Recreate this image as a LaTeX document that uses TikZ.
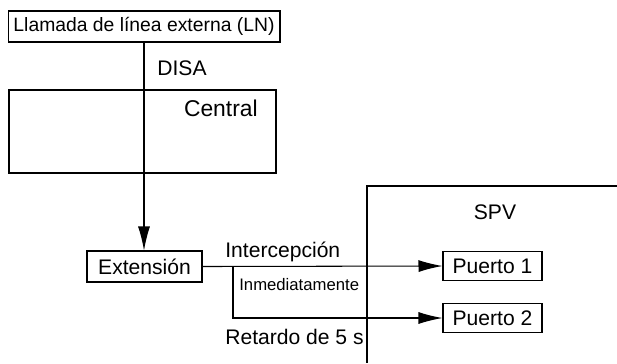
\documentclass[tikz,border=0pt]{standalone}
\usepackage{fontspec}
\setmainfont{Liberation Sans}
\usetikzlibrary{arrows.meta}

\begin{document}
\begin{tikzpicture} [x = 0.02cm, y = -0.02cm]
\tikzset{caja/.style = {draw, line width = 0.6pt, inner sep = 0pt, font = \fontsize{12}{14}\selectfont},
         texto/.style = {inner sep = 0pt, anchor = west, font = \fontsize{12}{14}\selectfont},
         flecha/.style = {line width = 0.6pt, -{Latex[length = 0.48cm, width = 0.24cm]}}}
\useasboundingbox (0, 0) rectangle (617, 363);
% boxes
\node[caja, minimum width = 5.44cm, minimum height = 0.62cm, font = \fontsize{11}{13}\selectfont] (llamada) at (144, 26.5){Llamada de línea externa (LN)};
\node[draw, line width = 1pt, minimum width = 5.34cm, minimum height = 1.66cm] (central) at (142.5, 131.5){};
\node[texto, anchor = east, font = \fontsize{13}{15}\selectfont] (centraltxt) at (258, 108){Central};
\node[caja, minimum width = 2.3cm, minimum height = 0.62cm] (extension) at (144.5, 266.5){Extensión};
\node[caja, minimum width = 1.98cm, minimum height = 0.58cm] (puerto1) at (492.5, 266){Puerto 1};
\node[caja, minimum width = 1.98cm, minimum height = 0.58cm] (puerto2) at (492.5, 318){Puerto 2};
% SPV
\coordinate (spvtop) at (617, 186);
\coordinate (spvcorner) at (367, 186);
\coordinate (spvbottom) at (367, 363);
\draw[line width = 0.6pt] (spvtop) -- (spvcorner) -- (spvbottom);
\node[texto, anchor = center] (spv) at (495, 212){SPV};
% labels
\node[texto] (disa) at (157, 68){DISA};
\node[texto] (intercep) at (225, 252){Intercepción};
\node[texto, font = \fontsize{9.5}{11}\selectfont] (inmed) at (239, 285){Inmediatamente};
\node[texto] (retardo) at (225, 337){Retardo de 5 s};
% connectors
\draw[flecha] (llamada.south) -- (llamada.south |- extension.north);
\draw[flecha] (extension.east) -- (puerto1.west);
\coordinate (rama) at (233, 266);
\draw[flecha] (rama) |- (puerto2.west);
\end{tikzpicture}
\end{document}
